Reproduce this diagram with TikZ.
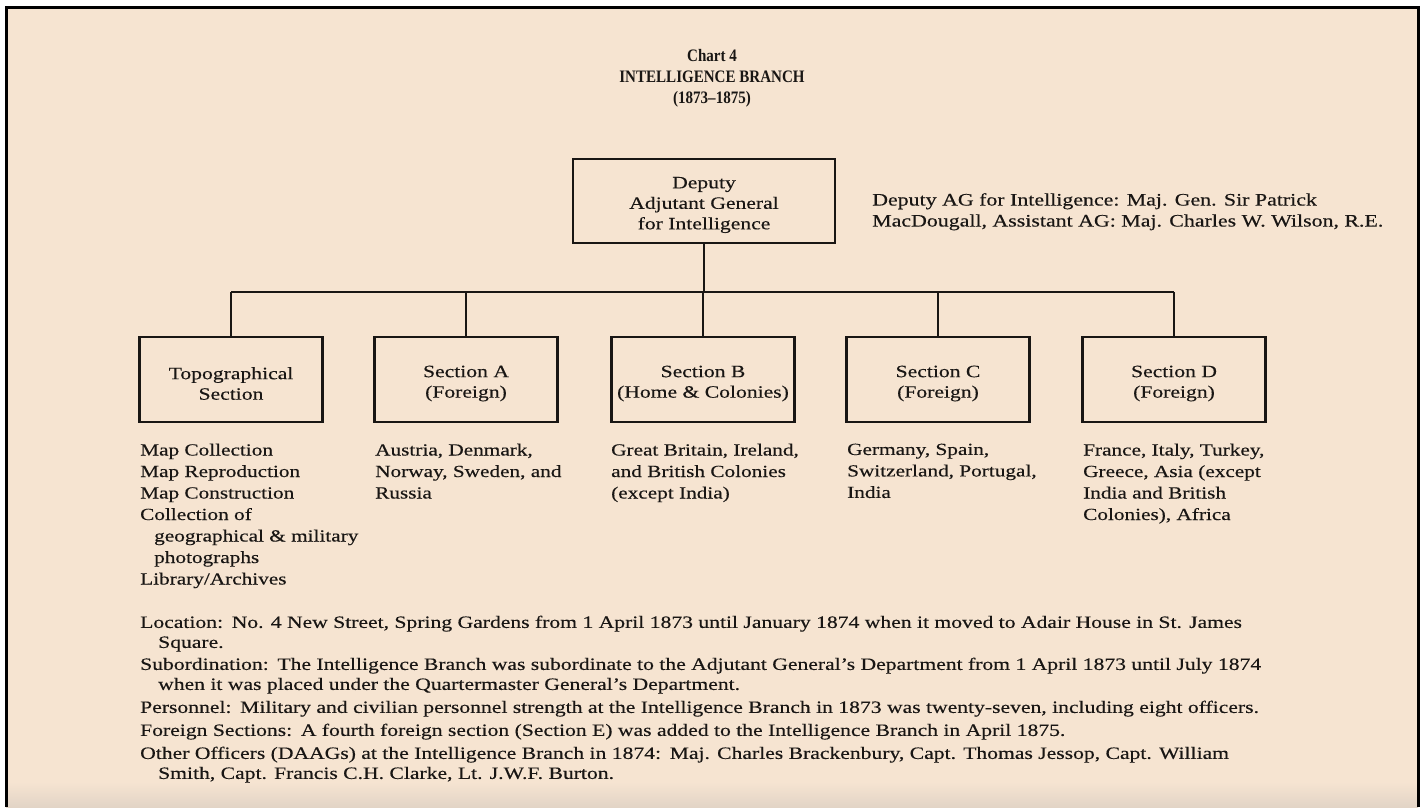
\documentclass[tikz,border=0pt]{standalone}
\usepackage{fontspec}
\setmainfont{Liberation Serif}[FakeStretch=1.25, FakeBold=0.3]
\newfontfamily\headfont{Liberation Serif}[Ligatures=TeX, FakeStretch=0.86]
\definecolor{paper}{RGB}{246,228,209}
\definecolor{paperdark}{RGB}{226,212,198}
\definecolor{ink}{RGB}{25,22,20}
\tikzset{
  frameline/.style={line width=3pt, black},
  orgbox/.style={draw=ink, line width=2.4pt, minimum width=183pt, minimum height=85pt,
    inner sep=0pt},
  boxlabel/.style={align=center, inner sep=0pt, text=ink, yshift=-4pt,
    font=\fontsize{17.3}{20.5}\selectfont},
  link/.style={draw=ink, line width=2.4pt},
  listtext/.style={anchor=north west, align=left, inner sep=0pt, text=ink,
    font=\fontsize{17}{21.5}\selectfont},
  sidetext/.style={anchor=north west, align=left, inner sep=0pt, text=ink,
    font=\fontsize{17.5}{21}\selectfont},
  notetext/.style={anchor=north west, align=left, inner sep=0pt, text=ink,
    font=\fontsize{17.3}{20}\selectfont},
  titletext/.style={anchor=north, align=center, inner sep=0pt, text=ink,
    font=\headfont\fontsize{17.5}{21}\selectfont\bfseries},
}
\begin{document}
\begin{tikzpicture}[x=1pt,y=-1pt]
\useasboundingbox (0,0) rectangle (1426,807);
\fill[white] (0,0) rectangle (1426,807);
\fill[paper] (6,7) rectangle (1418,807);
\shade[top color=paper, bottom color=paperdark] (6,782) rectangle (1418,807);
\draw[frameline] (6,807) -- (6,7) -- (1418,7) -- (1418,807);

% title
\node[titletext] (title) at (712,49) {Chart 4\\INTELLIGENCE BRANCH\\(1873–1875)};

% boxes
\node[orgbox, minimum width=262pt, minimum height=84pt,
  label={[boxlabel]center:{Deputy\\Adjutant General\\for Intelligence}}] (dag) at (704,201) {};
\node[orgbox, label={[boxlabel]center:{Topographical\\Section}}] (topo) at (231,379.5) {};
\node[orgbox, label={[boxlabel]center:{Section A\\(Foreign)}}] (seca) at (466,379.5) {};
\node[orgbox, label={[boxlabel]center:{Section B\\(Home \& Colonies)}}] (secb) at (703,379.5) {};
\node[orgbox, label={[boxlabel]center:{Section C\\(Foreign)}}] (secc) at (938,379.5) {};
\node[orgbox, label={[boxlabel]center:{Section D\\(Foreign)}}] (secd) at (1174,379.5) {};

% connectors
\coordinate (bus) at (704,292);
\draw[link] (dag.south) -- (bus);
\draw[link] (topo.north |- bus) -- (secd.north |- bus);
\foreach \n in {topo,seca,secb,secc,secd}{
  \draw[link] (\n.north) -- (\n.north |- bus);
}

% side note
\node[sidetext] (who) at (872,193)
  {Deputy AG for Intelligence: Maj. Gen. Sir Patrick\\MacDougall, Assistant AG: Maj. Charles W. Wilson, R.E.};

% lists
\node[listtext] (topolist) at (140,443.5)
  {Map Collection\\Map Reproduction\\Map Construction\\Collection of\\\hspace*{14pt}geographical \& military\\\hspace*{14pt}photographs\\Library/Archives};
\node[listtext] (alist) at (375,443.5) {Austria, Denmark,\\Norway, Sweden, and\\Russia};
\node[listtext] (blist) at (611,443.5) {Great Britain, Ireland,\\and British Colonies\\(except India)};
\node[listtext] (clist) at (847,443.5) {Germany, Spain,\\Switzerland, Portugal,\\India};
\node[listtext] (dlist) at (1083,443.5) {France, Italy, Turkey,\\Greece, Asia (except\\India and British\\Colonies), Africa};

% notes
\node[notetext] (n1) at (140,615.5)
  {Location:\enspace No. 4 New Street, Spring Gardens from 1 April 1873 until January 1874 when it moved to Adair House in St. James\\\hspace*{18pt}Square.};
\node[notetext] (n2) at (140,657.5)
  {Subordination:\enspace The Intelligence Branch was subordinate to the Adjutant General's Department from 1 April 1873 until July 1874\\\hspace*{18pt}when it was placed under the Quartermaster General's Department.};
\node[notetext] (n3) at (140,700.5)
  {Personnel:\enspace Military and civilian personnel strength at the Intelligence Branch in 1873 was twenty-seven, including eight officers.};
\node[notetext] (n4) at (140,723.5)
  {Foreign Sections:\enspace A fourth foreign section (Section E) was added to the Intelligence Branch in April 1875.};
\node[notetext] (n5) at (140,746.5)
  {Other Officers (DAAGs) at the Intelligence Branch in 1874:\enspace Maj. Charles Brackenbury, Capt. Thomas Jessop, Capt. William\\\hspace*{18pt}Smith, Capt. Francis C.H. Clarke, Lt. J.W.F. Burton.};
\end{tikzpicture}
\end{document}
